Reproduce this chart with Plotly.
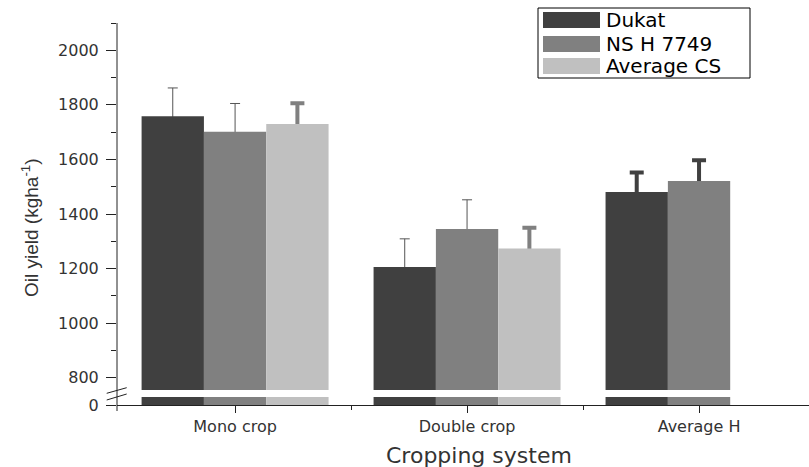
import plotly.graph_objects as go

# ---- data -------------------------------------------------------------
categories = ["Mono crop", "Double crop", "Average H"]
dukat = [1758, 1206, 1481]
dukat_err = [104, 103, 71]
nsh = [1701, 1345, 1521]
nsh_err = [104, 107, 76]
avg_cs = [1730, 1274, None]
avg_cs_err = [76, 76, None]

series_names = ["Dukat", "NS H 7749", "Average CS"]
y_ticks = [800, 1000, 1200, 1400, 1600, 1800, 2000]

# ---- styling ----------------------------------------------------------
W, H = 809, 467
L, R, T, B = 117, 809, 23, 405          # plot area in pixels
colors = ["#404040", "#808080", "#c0c0c0"]
axis_col = "#222222"
text_col = "#333333"
FONT = "DejaVu Sans"


def px(x):
    return (x - L) / (R - L)


def py(y):
    return (B - y) / (B - T)


thin = dict(thickness=1, width=5)
thick = dict(thickness=4, width=7)

# index groups and error-bar styles for each series
series = [
    (dukat, dukat_err, [([0, 1], thin, "#555555"), ([2], thick, "#404040")]),
    (nsh, nsh_err, [([0, 1], thin, "#555555"), ([2], thick, "#404040")]),
    (avg_cs, avg_cs_err, [([0, 1], thick, "#808080")]),
]

fig = go.Figure()

# upper segment (broken axis, 755 .. 2100)
# error bars first (on transparent bars); the solid bars drawn afterwards
# hide the lower half so only the upper whisker remains visible
for k, (vals, errs, parts) in enumerate(series):
    for idx, style, ecol in parts:
        fig.add_trace(go.Bar(
            x=idx,
            y=[vals[i] for i in idx],
            error_y=dict(type="data", array=[errs[i] for i in idx],
                         symmetric=True, color=ecol, visible=True, **style),
            marker=dict(color="rgba(0,0,0,0)", line=dict(width=0)),
            offsetgroup=str(k),
            showlegend=False, hoverinfo="skip",
            xaxis="x2", yaxis="y",
        ))
for k, (vals, errs, parts) in enumerate(series):
    xs = [i for i, v in enumerate(vals) if v is not None]
    fig.add_trace(go.Bar(
        x=xs,
        y=[vals[i] for i in xs],
        marker=dict(color=colors[k], line=dict(width=0)),
        offsetgroup=str(k),
        name=series_names[k],
        showlegend=False,
        xaxis="x2", yaxis="y",
    ))

# lower segment (0 .. break)
for k, (vals, errs, parts) in enumerate(series):
    xs = [i for i, v in enumerate(vals) if v is not None]
    fig.add_trace(go.Bar(
        x=xs,
        y=[vals[i] for i in xs],
        marker=dict(color=colors[k], line=dict(width=0)),
        offsetgroup=str(k),
        name=series_names[k],
        showlegend=False,
        xaxis="x", yaxis="y2",
    ))

tickfont = dict(family=FONT, size=16, color=text_col)

fig.update_layout(
    width=W, height=H, autosize=False,
    margin=dict(l=L, r=W - R, t=T, b=H - B, pad=0),
    plot_bgcolor="white", paper_bgcolor="white",
    barmode="group", bargap=0.194, bargroupgap=0,
    showlegend=False,
    xaxis=dict(
        domain=[0, 1], anchor="y2", range=[-0.509, 2.474],
        tickmode="array", tickvals=list(range(len(categories))),
        ticktext=categories, ticks="outside", ticklen=7, tickwidth=1,
        tickcolor=axis_col, showline=True, linecolor=axis_col, linewidth=1,
        showgrid=False, zeroline=False, tickfont=tickfont,
        minor=dict(tickmode="array", tickvals=[0.5, 1.5], ticks="outside",
                   ticklen=4, tickcolor=axis_col, showgrid=False),
    ),
    xaxis2=dict(
        domain=[0, 1], anchor="y", matches="x", showticklabels=False,
        ticks="", showline=False, showgrid=False, zeroline=False,
    ),
    yaxis=dict(
        domain=[py(390), 1], anchor="x2", range=[755, 2100],
        tickmode="array", tickvals=y_ticks, ticks="outside", ticklen=10,
        tickcolor=axis_col, showline=False, showgrid=False, zeroline=False,
        tickfont=tickfont, ticklabelstandoff=4,
        minor=dict(dtick=100, tick0=0, ticks="outside", ticklen=5,
                   tickcolor=axis_col, showgrid=False),
    ),
    yaxis2=dict(
        domain=[0, py(397)], anchor="x", range=[0, 30],
        tickmode="array", tickvals=[0], ticktext=["0"], ticks="outside",
        ticklen=10, tickcolor=axis_col, showline=False, showgrid=False,
        zeroline=False, tickfont=tickfont, ticklabelstandoff=4,
    ),
)

shapes = []
# continuous left axis line through the break
shapes.append(dict(type="line", xref="paper", yref="paper",
                   x0=0, x1=0, y0=py(411), y1=1,
                   line=dict(color=axis_col, width=1)))
# break marks
for y_left, y_right in [(393.3, 387.7), (400.0, 394.0)]:
    shapes.append(dict(type="line", xref="paper", yref="paper",
                       x0=px(106.7), y0=py(y_left), x1=px(126.7), y1=py(y_right),
                       line=dict(color=axis_col, width=1)))

# legend box with wide swatches
shapes.append(dict(type="rect", xref="paper", yref="paper",
                   x0=px(538), x1=px(750), y0=py(78), y1=py(8),
                   line=dict(color="black", width=1), fillcolor="white",
                   layer="above"))
rows = [(12, 28), (36, 52), (58, 74)]
annotations = []
for k, (y0, y1) in enumerate(rows):
    shapes.append(dict(type="rect", xref="paper", yref="paper",
                       x0=px(543), x1=px(600), y0=py(y1), y1=py(y0),
                       line=dict(width=0), fillcolor=colors[k], layer="above"))
    annotations.append(dict(
        x=px(605), y=py((y0 + y1) / 2), xref="paper", yref="paper",
        text=series_names[k], showarrow=False, xanchor="left",
        yanchor="middle", borderpad=0,
        font=dict(family=FONT, size=20, color="black"),
    ))

# axis titles
annotations.append(dict(
    x=px(30), y=py(228), xref="paper", yref="paper",
    text="Oil yield (kgha<sup>-1</sup>)", textangle=-90, showarrow=False,
    xanchor="center", yanchor="middle",
    font=dict(family="Liberation Sans", size=19, color=text_col),
))
annotations.append(dict(
    x=px(479), y=py(455), xref="paper", yref="paper",
    text="Cropping system", showarrow=False,
    xanchor="center", yanchor="middle",
    font=dict(family=FONT, size=22, color=text_col),
))

fig.update_layout(shapes=shapes, annotations=annotations)

fig.write_html("out.html")
